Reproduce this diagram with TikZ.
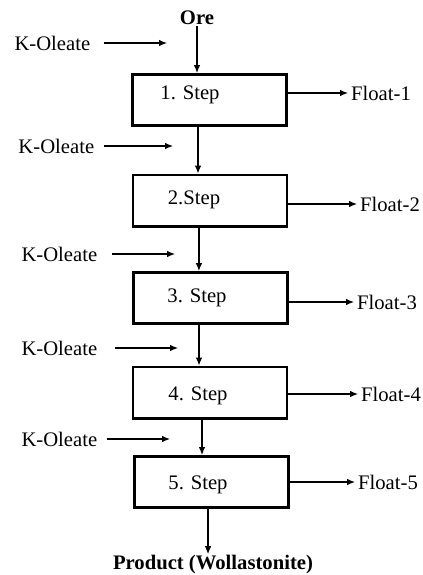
\documentclass[tikz,border=0pt]{standalone}
\usepackage{fontspec}
\setmainfont{Liberation Serif}
\usetikzlibrary{arrows.meta}
\tikzset{every picture/.style={line width=0.75pt}}
\tikzset{
  stepbox/.style={draw,line width=2pt,inner sep=0pt,minimum width=115.5pt,minimum height=38.5pt},
  flow/.style={-{Latex[length=6pt,width=5pt]},line width=0.9pt},
  lbl/.style={inner sep=0.75pt,font=\fontsize{15.5}{18}\selectfont},
  feed/.style={lbl,anchor=west},
  outlbl/.style={lbl,anchor=west,inner sep=2pt}
}

\begin{document}
\begin{tikzpicture}[x=0.75pt,y=0.75pt,yscale=-1,xscale=1]
\path[use as bounding box] (0,0) rectangle (422,575);

%Steps
\node[stepbox] (box1) at (209.5,100) {};
\node[stepbox] (box2) at (210,200.5) {};
\node[stepbox] (box3) at (210.5,298) {};
\node[stepbox] (box4) at (210,392.5) {};
\node[stepbox] (box5) at (211.5,482) {};
\node[lbl] (step1) at (190,95) {1. Step};
\node[lbl] (step2) at (194,200) {2.Step};
\node[lbl] (step3) at (197,298) {3. Step};
\node[lbl] (step4) at (198,396) {4. Step};
\node[lbl] (step5) at (198,485) {5. Step};

%In and out
\node[lbl,font=\fontsize{15.5}{18}\selectfont\bfseries] (ore) at (197,18) {Ore};
\node[lbl,font=\fontsize{15.5}{18}\selectfont\bfseries] (product) at (213,565) {Product (Wollastonite)};

% K-Oleate feeds
\node[feed] (ko1) at (13,43) {K-Oleate};
\node[feed] (ko2) at (17,146) {K-Oleate};
\node[feed] (ko3) at (20,254) {K-Oleate};
\node[feed] (ko4) at (20,348) {K-Oleate};
\node[feed] (ko5) at (20,439) {K-Oleate};
\coordinate (kin1) at (167,43);
\coordinate (kin2) at (173,146);
\coordinate (kin3) at (175,254);
\coordinate (kin4) at (178,348);
\coordinate (kin5) at (170,439);

% Floats
\node[outlbl] (float1) at (348,93) {Float-1};
\node[outlbl] (float2) at (357,204) {Float-2};
\node[outlbl] (float3) at (354,302) {Float-3};
\node[outlbl] (float4) at (358,394) {Float-4};
\node[outlbl] (float5) at (355,482) {Float-5};

%Arrows
\draw[flow] (ore) -- (ore |- box1.north);
\draw[flow] ([xshift=-8.6pt]box1.south) -- ([xshift=-8.6pt]box1.south |- box2.north);
\draw[flow] ([xshift=-8.3pt]box2.south) -- ([xshift=-8.3pt]box2.south |- box3.north);
\draw[flow] ([xshift=-8.6pt]box3.south) -- ([xshift=-8.6pt]box3.south |- box4.north);
\draw[flow] ([xshift=-6pt]box4.south) -- ([xshift=-6pt]box4.south |- box5.north);
\draw[flow] ([xshift=-2.6pt]box5.south) -- ([xshift=-2.6pt]box5.south |- product.north);

\draw[flow,shorten <=9pt] (ko1.east) -- (kin1);
\draw[flow,shorten <=6pt] (ko2.east) -- (kin2);
\draw[flow,shorten <=10pt] (ko3.east) -- (kin3);
\draw[flow,shorten <=12pt] (ko4.east) -- (kin4);
\draw[flow,shorten <=6pt] (ko5.east) -- (kin5);

\draw[flow] (box1.east |- float1) -- (float1.west);
\draw[flow] (box2.east |- float2) -- (float2.west);
\draw[flow] (box3.east |- float3) -- (float3.west);
\draw[flow] (box4.east |- float4) -- (float4.west);
\draw[flow] (box5.east |- float5) -- (float5.west);
\end{tikzpicture}
\end{document}
